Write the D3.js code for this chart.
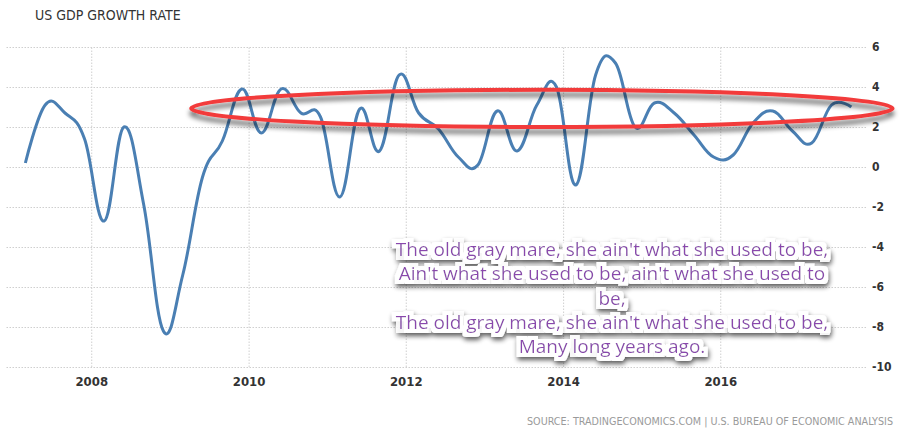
<!DOCTYPE html>
<html>
<head>
<meta charset="utf-8">
<script src="https://cdn.jsdelivr.net/npm/d3@7"></script>
<style>
    body { margin: 0; background: #fff; }
    svg { display: block; }
</style>
</head>
<body>
<script>
"use strict";

// quarterly readings, placed at the first day of each quarter's last month
const quarters = [
    "2007-03", "2007-06", "2007-09", "2007-12",
    "2008-03", "2008-06", "2008-09", "2008-12",
    "2009-03", "2009-06", "2009-09", "2009-12",
    "2010-03", "2010-06", "2010-09", "2010-12",
    "2011-03", "2011-06", "2011-09", "2011-12",
    "2012-03", "2012-06", "2012-09", "2012-12",
    "2013-03", "2013-06", "2013-09", "2013-12",
    "2014-03", "2014-06", "2014-09", "2014-12",
    "2015-03", "2015-06", "2015-09", "2015-12",
    "2016-03", "2016-06", "2016-09", "2016-12",
    "2017-03", "2017-06", "2017-09"
];
const growth = [
    0.2, 3.1, 2.7, 1.4,
    -2.7, 2.0, -1.9, -8.2,
    -5.4, -0.5, 1.3, 3.9,
    1.7, 3.9, 2.7, 2.5,
    -1.5, 2.9, 0.8, 4.6,
    2.7, 1.9, 0.5, 0.1,
    2.8, 0.8, 3.1, 4.0,
    -0.9, 4.6, 5.2, 2.0,
    3.2, 2.7, 1.6, 0.5,
    0.6, 2.2, 2.8, 1.8,
    1.2, 3.1, 3.0
];
const xTickYears = [2008, 2010, 2012, 2014, 2016];
const yTicks = [-10, -8, -6, -4, -2, 0, 2, 4, 6];

// the red ring, in data units: centre [year, value], radii [years, value]
const ringCentre = [2013.73, 2.93];
const ringRadii = [4.46, 0.93];

const lyrics = [
    "The old gray mare, she ain't what she used to be,",
    "Ain't what she used to be, ain't what she used to",
    "be,",
    "The old gray mare, she ain't what she used to be,",
    "Many long years ago."
];

const chartTitle = "US GDP GROWTH RATE";
const sourceText = "SOURCE: TRADINGECONOMICS.COM | U.S. BUREAU OF ECONOMIC ANALYSIS";

(function () {

    const measurements = {
        width: 902,
        height: 428,
        left: 6,
        right: 866,
        top: 47,
        bottom: 367
    };

    const parseQuarter = d3.timeParse("%Y-%m");
    const data = quarters.map((q, i) => ({ date: parseQuarter(q), value: growth[i] }));

    const svg = d3.select("body").append("svg")
        .attr("width", measurements.width)
        .attr("height", measurements.height);

    const defs = svg.append("defs");

    // soft grey shadow under the ring
    const ringShadow = defs.append("filter").attr("id", "ringShadow")
        .attr("x", "-5%").attr("y", "-60%").attr("width", "110%").attr("height", "220%");
    ringShadow.append("feGaussianBlur").attr("in", "SourceAlpha").attr("stdDeviation", 2.5).attr("result", "b");
    ringShadow.append("feOffset").attr("in", "b").attr("dy", 5).attr("result", "o");
    ringShadow.append("feComponentTransfer").attr("in", "o").attr("result", "s")
        .append("feFuncA").attr("type", "linear").attr("slope", 0.6);
    const rm = ringShadow.append("feMerge");
    rm.append("feMergeNode").attr("in", "s");
    rm.append("feMergeNode").attr("in", "SourceGraphic");

    // white halo + shadow round the lyrics
    const halo = defs.append("filter").attr("id", "halo")
        .attr("x", "-10%").attr("y", "-20%").attr("width", "120%").attr("height", "140%");
    halo.append("feMorphology").attr("in", "SourceAlpha").attr("operator", "dilate").attr("radius", 3.5).attr("result", "dil");
    halo.append("feGaussianBlur").attr("in", "dil").attr("stdDeviation", 2.5).attr("result", "blur");
    halo.append("feOffset").attr("in", "blur").attr("dx", 1).attr("dy", 3).attr("result", "off");
    halo.append("feComponentTransfer").attr("in", "off").attr("result", "shadow")
        .append("feFuncA").attr("type", "linear").attr("slope", 0.65);
    halo.append("feFlood").attr("flood-color", "#ffffff").attr("result", "white");
    halo.append("feComposite").attr("in", "white").attr("in2", "dil").attr("operator", "in").attr("result", "ring");
    const hm = halo.append("feMerge");
    hm.append("feMergeNode").attr("in", "shadow");
    hm.append("feMergeNode").attr("in", "ring");
    hm.append("feMergeNode").attr("in", "SourceGraphic");

    const scaleX = d3.scaleTime()
        .domain([new Date(2006, 11, 1), new Date(2017, 10, 8)])
        .range([measurements.left, measurements.right]);

    const scaleY = d3.scaleLinear()
        .domain([-10, 6])
        .range([measurements.bottom, measurements.top]);

    drawAxes(scaleX, scaleY);
    plotData(scaleX, scaleY);
    drawNotes(scaleX, scaleY);

    function drawAxes(scaleX, scaleY) {
        const yearDates = xTickYears.map((y) => new Date(y, 0, 1));

        // dotted grid
        svg.append("g")
            .attr("class", "grid")
            .attr("transform", `translate(${measurements.right},0)`)
            .call(d3.axisLeft(scaleY).tickValues(yTicks)
                .tickSize(measurements.right - measurements.left).tickFormat(""));

        svg.append("g")
            .attr("class", "grid")
            .attr("transform", `translate(0,${measurements.bottom})`)
            .call(d3.axisBottom(scaleX).tickValues(yearDates)
                .tickSize(-(measurements.bottom - measurements.top)).tickFormat(""));

        svg.selectAll(".grid .domain").remove();
        svg.selectAll(".grid line")
            .attr("stroke", "#cfcfcf")
            .attr("stroke-dasharray", "1.5,1.5");

        // labels
        const xAxis = svg.append("g")
            .attr("transform", `translate(0,${measurements.bottom})`)
            .call(d3.axisBottom(scaleX).tickValues(yearDates)
                .tickSize(0).tickPadding(10).tickFormat(d3.timeFormat("%Y")));

        // plain hyphen for negatives, as in the original
        const yAxis = svg.append("g")
            .attr("transform", `translate(${measurements.right},0)`)
            .call(d3.axisRight(scaleY).tickValues(yTicks).tickSize(0).tickPadding(6)
                .tickFormat((d) => String(d)));

        [xAxis, yAxis].forEach((ax) => {
            ax.select(".domain").remove();
            ax.selectAll("text")
                .attr("fill", "#333")
                .style("font-family", "'DejaVu Sans Condensed', 'DejaVu Sans', sans-serif")
                .style("font-weight", "bold");
        });
        xAxis.selectAll("text").style("font-size", "13px");
        yAxis.selectAll("text").style("font-size", "12px");

        svg.append("text")
            .attr("x", 35)
            .attr("y", 20)
            .attr("fill", "#333")
            .style("font-family", "'DejaVu Sans Condensed', 'DejaVu Sans', sans-serif")
            .style("font-size", "14px")
            .text(chartTitle);

        svg.append("text")
            .attr("x", 527)
            .attr("y", 425)
            .attr("fill", "#9a9a9a")
            .attr("textLength", 366)
            .attr("lengthAdjust", "spacingAndGlyphs")
            .style("font-family", "'DejaVu Sans Condensed', 'DejaVu Sans', sans-serif")
            .style("font-size", "10px")
            .text(sourceText);
    }

    function plotData(scaleX, scaleY) {
        const line = d3.line()
            .x((d) => scaleX(d.date))
            .y((d) => scaleY(d.value))
            .curve(d3.curveCardinal.tension(-0.2));

        svg.append("path")
            .datum(data)
            .attr("d", line)
            .attr("fill", "none")
            .attr("stroke", "#4a7fb3")
            .attr("stroke-width", 3)
            .attr("stroke-linejoin", "round");
    }

    function yearToDate(y) {
        const year = Math.floor(y);
        const start = new Date(year, 0, 1);
        const end = new Date(year + 1, 0, 1);
        return new Date(+start + (y - year) * (end - start));
    }

    function drawNotes(scaleX, scaleY) {
        const cx = scaleX(yearToDate(ringCentre[0]));
        const rx = cx - scaleX(yearToDate(ringCentre[0] - ringRadii[0]));
        const cy = scaleY(ringCentre[1]);
        const ry = scaleY(ringCentre[1] - ringRadii[1]) - cy;

        svg.append("ellipse")
            .attr("cx", cx)
            .attr("cy", cy)
            .attr("rx", rx)
            .attr("ry", ry)
            .attr("fill", "none")
            .attr("stroke", "#f23b3b")
            .attr("stroke-width", 4)
            .attr("filter", "url(#ringShadow)");

        const notes = svg.append("g").attr("filter", "url(#halo)");
        notes.selectAll("text")
            .data(lyrics)
            .enter()
            .append("text")
            .attr("x", 612)
            .attr("y", (d, i) => 256 + i * 24.3)
            .attr("text-anchor", "middle")
            .attr("fill", "#8a47ad")
            .style("font-family", "'Open Sans', sans-serif")
            .style("font-size", "19px")
            .text((d) => d);
    }

})();
</script>
</body>
</html>
